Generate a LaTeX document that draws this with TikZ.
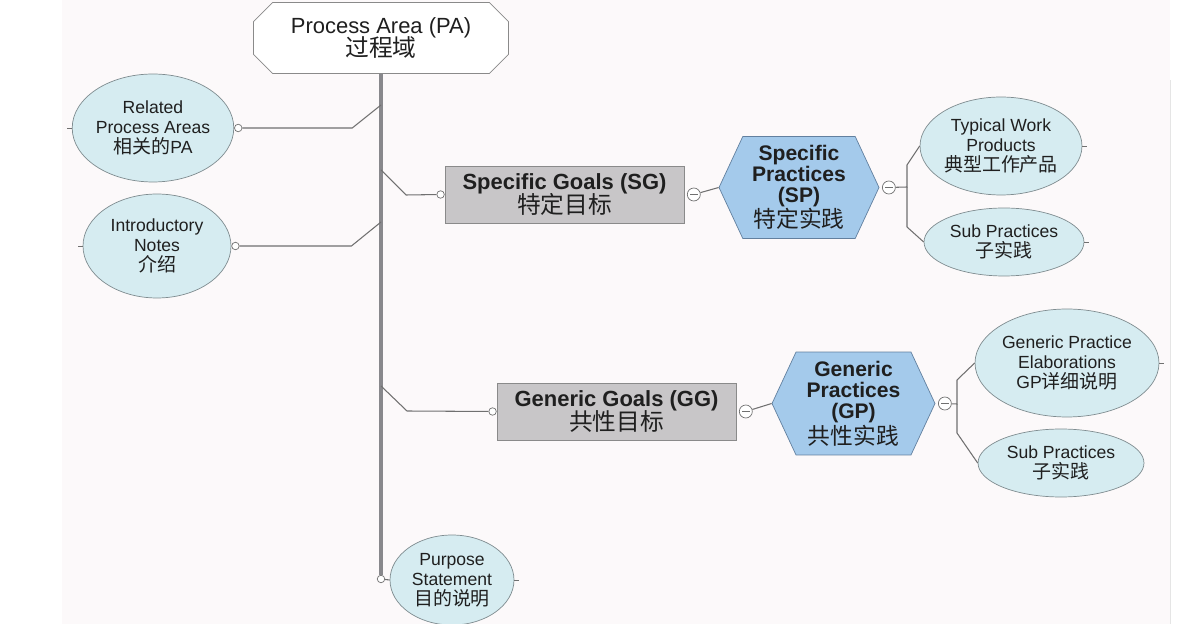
\documentclass[tikz,border=0pt]{standalone}
\usepackage{fontspec}
\setmainfont{Liberation Sans}
\newfontfamily\cjk[Scale=1.08]{Noto Sans CJK SC}
\usetikzlibrary{positioning, shapes.geometric, shapes.misc, shapes.symbols}
\definecolor{bgpink}{HTML}{FCF9FA}
\definecolor{notefill}{HTML}{D6ECF1}
\definecolor{notedraw}{HTML}{7F8C90}
\definecolor{goalfill}{HTML}{C8C6C8}
\definecolor{goaldraw}{HTML}{8A8A8A}
\definecolor{hexfill}{HTML}{A4CAEB}
\definecolor{hexdraw}{HTML}{62809F}
\definecolor{linegray}{HTML}{707070}
\definecolor{trunkgray}{HTML}{88888C}
\tikzset{
    every node/.style={text=black!88, align=center}, % Centered multi-line labels
    areabox/.style={chamfered rectangle, chamfered rectangle xsep=0.26cm, draw=goaldraw, fill=white,
        minimum width=5.1cm, minimum height=1.42cm, inner sep=0pt, font=\fontsize{12.5}{12.5}\selectfont},
    note/.style={ellipse, draw=notedraw, fill=notefill, inner sep=0pt, font=\fontsize{10}{11.3}\selectfont},
    goal/.style={rectangle, draw=goaldraw, fill=goalfill, minimum width=4.78cm, minimum height=1.14cm,
        inner sep=0pt, font=\fontsize{12.5}{12}\selectfont},
    practice/.style={signal, signal to=east and west, signal pointer angle=130, draw=hexdraw, fill=hexfill,
        minimum width=3.2cm, minimum height=2.04cm, inner sep=0pt, font=\fontsize{12}{12}\selectfont},
    port/.style={circle, draw=linegray, fill=white, minimum size=0.15cm, inner sep=0pt}, % Small hollow joint
    fold/.style={circle, draw=linegray, fill=white, minimum size=0.26cm, inner sep=0pt,
        path picture={\draw[linegray, line width=0.6pt] ([xshift=1.6pt]path picture bounding box.west)
            -- ([xshift=-1.6pt]path picture bounding box.east);}}, % Collapse button
    link/.style={draw=linegray, line width=0.6pt},
    trunk/.style={draw=trunkgray, line width=2.8pt},
    stub/.style={draw=linegray, line width=0.5pt},
}

\begin{document}
\begin{tikzpicture}[x=0.02cm, y=-0.02cm]
    \useasboundingbox (0,0) rectangle (1180,624);
    \fill[bgpink] (62,0) rectangle (1170,624);
    \draw[gray!20] (1170,80) -- (1170,624);

    % root and the notes on its left
    \node[areabox] (pa) at (381,38) {Process Area (PA)\\[-1.5pt]{\cjk 过程域}};
    \node[note, minimum width=3.2cm, minimum height=2.16cm] (rel) at (153,128)
        {Related\\Process Areas\\{\cjk 相关的}PA};
    \node[note, minimum width=2.96cm, minimum height=2.08cm] (intro) at (157,246)
        {Introductory\\Notes\\{\cjk 介绍}};
    \node[note, minimum width=2.48cm, minimum height=1.8cm] (purp) at (452,580)
        {Purpose\\Statement\\{\cjk 目的说明}};

    % goals and practices
    \node[goal] (sg) at (564.5,194.5) {\textbf{Specific Goals (SG)}\\[-1pt]{\cjk 特定目标}};
    \node[practice] (sp) at (799,187.5) {\textbf{Specific}\\\textbf{Practices}\\\textbf{(SP)}\\{\cjk 特定实践}};
    \node[goal] (gg) at (616.5,411.5) {\textbf{Generic Goals (GG)}\\[-1pt]{\cjk 共性目标}};
    \node[practice, minimum width=3.26cm, minimum height=2.06cm] (gp) at (853.5,403.5)
        {\textbf{Generic}\\\textbf{Practices}\\\textbf{(GP)}\\{\cjk 共性实践}};

    % leaves on the right
    \node[note, minimum width=3.24cm, minimum height=1.96cm] (twp) at (1001,146)
        {Typical Work\\Products\\{\cjk 典型工作产品}};
    \node[note, minimum width=3.2cm, minimum height=1.36cm] (ssp) at (1004,242)
        {Sub Practices\\{\cjk 子实践}};
    \node[note, minimum width=3.68cm, minimum height=2.16cm] (gpe) at (1067,363)
        {Generic Practice\\Elaborations\\GP{\cjk 详细说明}};
    \node[note, minimum width=3.32cm, minimum height=1.36cm] (gsp) at (1061,463)
        {Sub Practices\\{\cjk 子实践}};

    % joints
    \node[port, right=0pt of rel] (relp) {};
    \node[port, right=0pt of intro] (introp) {};
    \node[port, left=0pt of sg] (sgp) {};
    \node[port, left=0pt of gg] (ggp) {};
    \node[port] (pap) at (381,579) {};
    \node[fold, right=1.5pt of sg] (sgf) {};
    \node[fold, right=1.5pt of sp] (spf) {};
    \node[fold, right=1.5pt of gg] (ggf) {};
    \node[fold, right=1.5pt of gp] (gpf) {};

    \coordinate (jrel) at (381,105);
    \coordinate (jsg) at (381,170);
    \coordinate (jintro) at (381,222);
    \coordinate (jgg) at (381,386);
    \coordinate (spb) at (907,187);
    \coordinate (gpb) at (957,404);

    % trunk and branches
    \draw[trunk] (pa.south) -- (pap.north);
    \draw[link] (pap) -- (purp.west);
    \draw[link] (relp) -- ++(114,0) -- (jrel);
    \draw[link] (introp) -- ++(116,0) -- (jintro);
    \draw[link] (jsg) -- ++(25,25) -- (sgp);
    \draw[link] (jgg) -- ++(26,25) -- (ggp);
    \draw[link] (sgf) -- (sp.west);
    \draw[link] (ggf) -- (gp.west);
    \draw[link] (spf) -- (spb) -- ++(0,-22) -- (twp.west);
    \draw[link] (spb) -- ++(0,40) -- (ssp.west);
    \draw[link] (gpf) -- (gpb) -- ++(0,-24) -- (gpe.west);
    \draw[link] (gpb) -- ++(0,29) -- (gsp.west);

    % small ticks on the leaves
    \draw[stub] (rel.west) -- ++(-5,0);
    \draw[stub] (intro.west) -- ++(-5,0);
    \draw[stub] (twp.east) -- ++(5,0);
    \draw[stub] (ssp.east) -- ++(5,0);
    \draw[stub] (gpe.east) -- ++(5,0);
    \draw[stub] (purp.east) -- ++(5,0);
\end{tikzpicture}
\end{document}
